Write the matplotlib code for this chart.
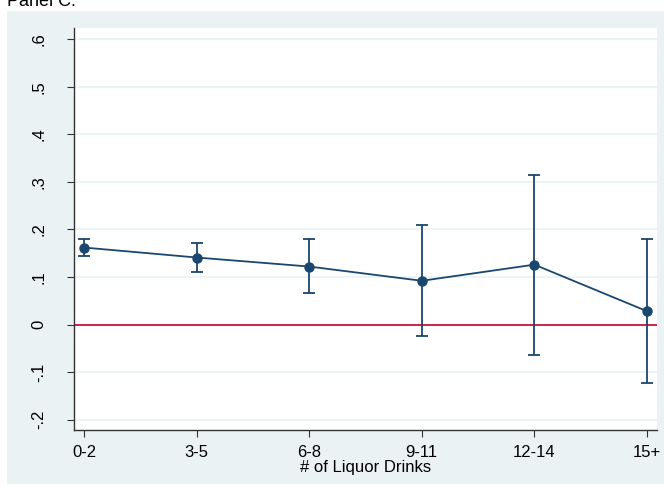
import matplotlib
matplotlib.use('Agg')
import matplotlib.pyplot as plt
from matplotlib.patches import Rectangle

# liquor drink bins and estimated effects with CIs
categories = ['0-2', '3-5', '6-8', '9-11', '12-14', '15+']
estimates = [0.162, 0.141, 0.122, 0.092, 0.126, 0.028]
ci_low = [0.144, 0.110, 0.066, -0.025, -0.064, -0.124]
ci_high = [0.179, 0.172, 0.179, 0.209, 0.315, 0.179]
yticks = [-0.2, -0.1, 0, 0.1, 0.2, 0.3, 0.4, 0.5, 0.6]
ytick_labels = ['-.2', '-.1', '0', '.1', '.2', '.3', '.4', '.5', '.6']

plt.rcParams['font.family'] = ['Liberation Sans', 'DejaVu Sans']

navy = '#1A476F'
bg = '#EAF2F3'

fig = plt.figure(figsize=(6.64, 4.87), dpi=100)
fig.patch.set_facecolor('white')
W, H = 664, 487
fig.patches.append(Rectangle((7 / W, 3 / H), 1 - 7 / W, (484 - 11) / H,
                             transform=fig.transFigure, facecolor=bg,
                             edgecolor='none', zorder=-5))
fig.text(7 / W, 1 - 6 / H, 'Panel C:', fontsize=13, va='baseline', ha='left')

ax = fig.add_axes([74 / W, 1 - 430 / H, (657 - 74) / W, (430 - 28) / H])
ax.set_facecolor('white')

x = list(range(1, len(categories) + 1))
yerr = [[e - l for e, l in zip(estimates, ci_low)],
        [h - e for e, h in zip(estimates, ci_high)]]
ax.axhline(0, color='#D0103A', lw=1.3, zorder=2)
ax.errorbar(x, estimates, yerr=yerr, fmt='-o', color=navy, ms=6.5,
            lw=1.3, elinewidth=1.3, capsize=4, capthick=1.3, zorder=3)

ax.set_xlim(0.911, 6.089)
ax.set_ylim(-0.222, 0.624)
ax.set_xticks(x)
ax.set_xticklabels(categories)
ax.set_yticks(yticks)
ax.set_yticklabels(ytick_labels, rotation=90, va='center')
ax.yaxis.grid(True, color=bg, lw=1.2)
ax.set_axisbelow(True)

for s in ['top', 'right']:
    ax.spines[s].set_visible(False)
for s in ['left', 'bottom']:
    ax.spines[s].set_color('#333333')
    ax.spines[s].set_linewidth(1)
ax.tick_params(axis='both', labelsize=12, color='#333333', length=5)
ax.tick_params(axis='y', pad=15)
ax.tick_params(axis='x', pad=6)
ax.set_xlabel('# of Liquor Drinks', fontsize=12, labelpad=0)

fig.savefig('out.png', dpi=100, facecolor=fig.get_facecolor())
